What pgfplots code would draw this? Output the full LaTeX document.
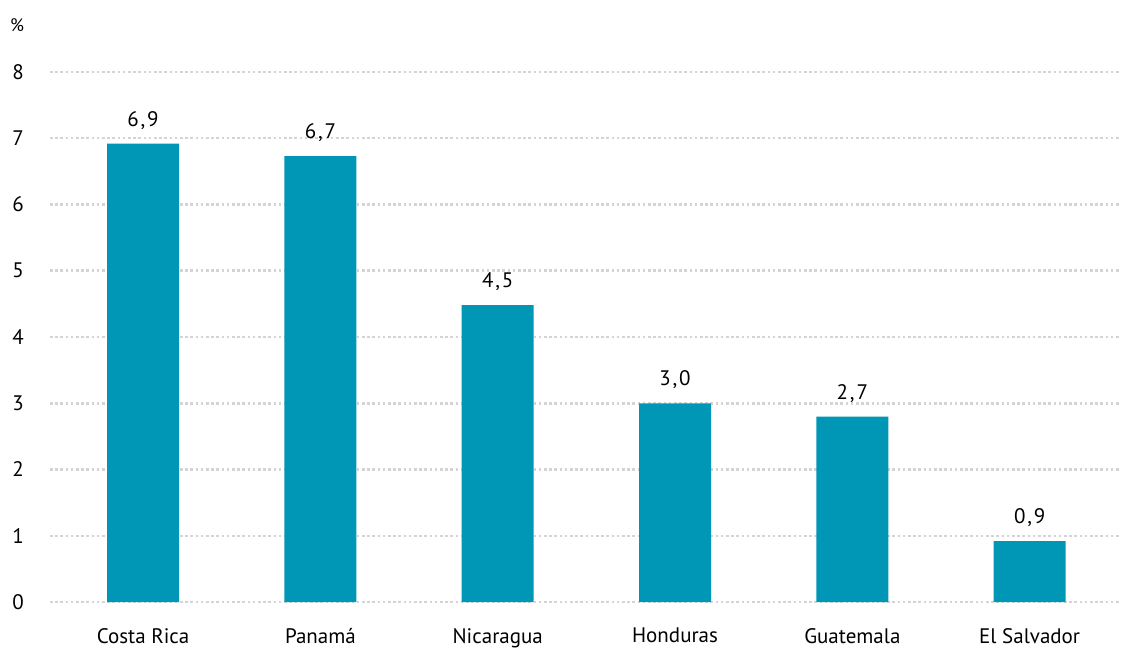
\documentclass[border=0pt]{standalone}
\usepackage{fontspec}
\setmainfont{PT Sans}
\usepackage{pgfplots}
\pgfplotsset{compat=1.18}
\definecolor{barblue}{RGB}{0,151,182}
\definecolor{gridgray}{RGB}{212,212,212}
\newcommand{\cm}{\kern1.8bp,\kern1.8bp}
\begin{document}
\fontsize{21bp}{24bp}\selectfont
\begin{tikzpicture}
\begin{axis}[
  at={(0,0)}, anchor=south west,
  scale only axis,
  width=1071bp, height=530bp,
  xmin=-0.525, xmax=5.515,
  ymin=0, ymax=8,
  axis line style={draw=none},
  major tick length=0pt,
  ytick={0,1,...,8},
  xtick=data,
  xticklabels={Costa Rica,Panamá,Nicaragua,Honduras,Guatemala,El Salvador},
  /pgf/number format/assume math mode=true,
  ymajorgrids,
  grid style={gridgray, line width=2.5bp, dash pattern=on 2.6bp off 2.6bp},
  yticklabel style={inner sep=0pt, anchor=east, xshift=-26bp},
  xticklabel style={inner sep=0pt, anchor=north, yshift=-26bp},
  ticklabel style={font=\fontsize{21bp}{24bp}\selectfont},
  clip=false,
]
\addplot[ybar, bar width=72bp, fill=barblue, draw=none,
  point meta=explicit symbolic,
  nodes near coords,
  every node near coord/.append style={anchor=south, inner sep=0pt, yshift=14bp, font=\fontsize{21bp}{24bp}\selectfont, black}]
  table[meta=label] {
x y label
0 6.92 {6\cm9}
1 6.73 {6\cm7}
2 4.48 {4\cm5}
3 3.00 {3\cm0}
4 2.80 {2\cm7}
5 0.92 {0\cm9}
};
\node[anchor=center, font=\fontsize{18bp}{20bp}\selectfont] at (rel axis cs:0,1) [xshift=-33bp, yshift=47bp] {\%};
\end{axis}
\pgfresetboundingbox
\path (-50bp,-46bp) rectangle (1071bp,602bp);
\end{tikzpicture}
\end{document}
